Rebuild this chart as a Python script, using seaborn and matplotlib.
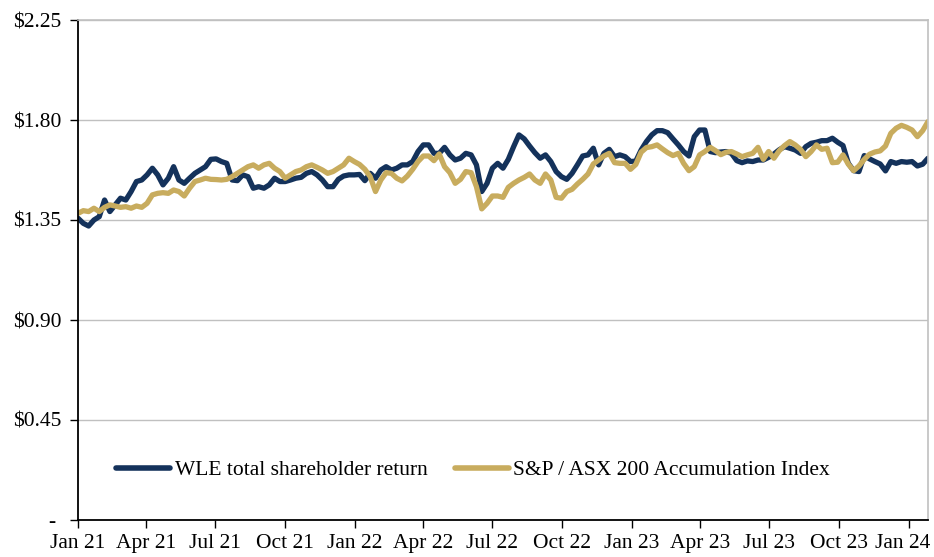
import pandas as pd
import seaborn as sns
import matplotlib.pyplot as plt
import matplotlib.transforms as mtransforms
from matplotlib.lines import Line2D
from matplotlib.ticker import FuncFormatter

# weekly readings, Jan 2021 - Jan 2024
dates = pd.date_range('2021-01-01', periods=161, freq='7D')

wle = [
    1.358, 1.335, 1.323, 1.350, 1.365, 1.440, 1.388, 1.418, 1.448, 1.440,
    1.478, 1.523, 1.530, 1.553, 1.583, 1.553, 1.508, 1.538, 1.590, 1.530,
    1.515, 1.538, 1.560, 1.575, 1.590, 1.623, 1.625, 1.613, 1.605, 1.530,
    1.527, 1.553, 1.545, 1.493, 1.500, 1.493, 1.508, 1.538, 1.523, 1.523,
    1.530, 1.538, 1.542, 1.560, 1.568, 1.553, 1.530, 1.500, 1.500, 1.533,
    1.548, 1.553, 1.553, 1.555, 1.527, 1.560, 1.538, 1.575, 1.590, 1.575,
    1.583, 1.598, 1.598, 1.613, 1.658, 1.688, 1.688, 1.650, 1.650, 1.677,
    1.643, 1.620, 1.628, 1.650, 1.643, 1.598, 1.478, 1.515, 1.583, 1.605,
    1.583, 1.623, 1.680, 1.733, 1.715, 1.683, 1.653, 1.628, 1.643, 1.613,
    1.568, 1.545, 1.533, 1.560, 1.598, 1.638, 1.643, 1.673, 1.598, 1.650,
    1.668, 1.635, 1.643, 1.635, 1.613, 1.615, 1.665, 1.703, 1.733, 1.752,
    1.752, 1.743, 1.715, 1.688, 1.658, 1.638, 1.725, 1.755, 1.755, 1.658,
    1.653, 1.656, 1.658, 1.650, 1.617, 1.608, 1.616, 1.613, 1.620, 1.620,
    1.632, 1.647, 1.666, 1.680, 1.673, 1.665, 1.650, 1.680, 1.695, 1.700,
    1.707, 1.707, 1.718, 1.700, 1.685, 1.605, 1.572, 1.568, 1.640, 1.625,
    1.613, 1.602, 1.571, 1.613, 1.605, 1.613, 1.610, 1.613, 1.593, 1.601,
    1.628,
]

asx = [
    1.380, 1.392, 1.388, 1.403, 1.388, 1.407, 1.418, 1.413, 1.407, 1.410,
    1.403, 1.413, 1.407, 1.425, 1.463, 1.470, 1.473, 1.470, 1.485, 1.478,
    1.458, 1.493, 1.523, 1.530, 1.538, 1.533, 1.532, 1.530, 1.533, 1.545,
    1.560, 1.575, 1.590, 1.598, 1.583, 1.598, 1.605, 1.583, 1.568, 1.538,
    1.553, 1.568, 1.575, 1.590, 1.598, 1.587, 1.575, 1.560, 1.568, 1.583,
    1.598, 1.628, 1.613, 1.600, 1.578, 1.545, 1.478, 1.530, 1.563, 1.560,
    1.538, 1.526, 1.548, 1.578, 1.613, 1.638, 1.638, 1.617, 1.647, 1.590,
    1.563, 1.515, 1.533, 1.568, 1.563, 1.500, 1.400, 1.425, 1.458, 1.458,
    1.452, 1.497, 1.515, 1.530, 1.542, 1.557, 1.530, 1.515, 1.557, 1.530,
    1.452, 1.448, 1.478, 1.488, 1.512, 1.533, 1.557, 1.602, 1.620, 1.638,
    1.650, 1.608, 1.605, 1.605, 1.578, 1.600, 1.655, 1.676, 1.680, 1.688,
    1.670, 1.653, 1.640, 1.650, 1.605, 1.572, 1.590, 1.643, 1.658, 1.677,
    1.662, 1.644, 1.655, 1.658, 1.647, 1.635, 1.643, 1.650, 1.677, 1.623,
    1.658, 1.628, 1.662, 1.685, 1.703, 1.688, 1.668, 1.635, 1.658, 1.688,
    1.668, 1.673, 1.608, 1.610, 1.643, 1.601, 1.572, 1.593, 1.623, 1.646,
    1.656, 1.661, 1.683, 1.740, 1.763, 1.776, 1.767, 1.755, 1.725, 1.752,
    1.793,
]

series_names = ['WLE total shareholder return', 'S&P / ASX 200 Accumulation Index']
colors = ['#14325b', '#c8ac5e']
tick_dates = pd.date_range('2021-01-01', '2024-01-01', freq='QS')
tick_labels = ['Jan 21', 'Apr 21', 'Jul 21', 'Oct 21', 'Jan 22', 'Apr 22', 'Jul 22',
               'Oct 22', 'Jan 23', 'Apr 23', 'Jul 23', 'Oct 23', 'Jan 24']
y_ticks = [0, 0.45, 0.90, 1.35, 1.80, 2.25]

df = pd.concat([
    pd.DataFrame({'date': dates, 'value': wle, 'series': series_names[0]}),
    pd.DataFrame({'date': dates, 'value': asx, 'series': series_names[1]}),
])

sns.set_theme(style="white")
plt.rcParams['font.family'] = ['Liberation Serif', 'DejaVu Serif']
plt.rcParams['text.color'] = 'black'

fig = plt.figure(figsize=(9.34, 5.57), dpi=100)
ax = fig.add_axes([78 / 934, 1 - 520 / 557, 850 / 934, 500 / 557])

sns.lineplot(data=df, x='date', y='value', hue='series', hue_order=series_names,
             palette=colors, linewidth=3.8, ax=ax, legend=False)

ax.set_ylim(0, 2.25)
ax.set_xlim(pd.Timestamp('2021-01-01'), pd.Timestamp('2024-01-26'))
ax.set_yticks(y_ticks)
ax.yaxis.set_major_formatter(FuncFormatter(lambda v, p: '- ' if v == 0 else f'${v:.2f}'))
ax.set_xticks(tick_dates)
ax.set_xticklabels(tick_labels)
ax.grid(axis='y', color='#c0c0c0', linewidth=1)
ax.set_axisbelow(True)
ax.set_xlabel('')
ax.set_ylabel('')

ax.tick_params(axis='both', which='major', direction='out', length=6, width=1,
               color='black', labelsize=15.5, labelcolor='black')
ax.tick_params(axis='x', bottom=True, pad=4)
ax.tick_params(axis='y', left=True, pad=6)

# last label is nudged left so it stays inside the figure
last = ax.get_xticklabels()[-1]
last.set_transform(last.get_transform() + mtransforms.ScaledTranslation(-0.06, 0, fig.dpi_scale_trans))

for side in ['left', 'bottom']:
    ax.spines[side].set_color('black')
    ax.spines[side].set_linewidth(1.3)
for side in ['top', 'right']:
    ax.spines[side].set_color('#c0c0c0')
    ax.spines[side].set_linewidth(1.2)

handles = [Line2D([0], [0], color=c, linewidth=4) for c in colors]
leg = ax.legend(handles, series_names, loc='center', bbox_to_anchor=(0.465, 0.10),
                ncol=2, frameon=False, fontsize=15.5, handlelength=2.5,
                handletextpad=0.2, columnspacing=1.3)
for t in leg.get_texts():
    t.set_color('black')

fig.savefig('out.png', dpi=100)
